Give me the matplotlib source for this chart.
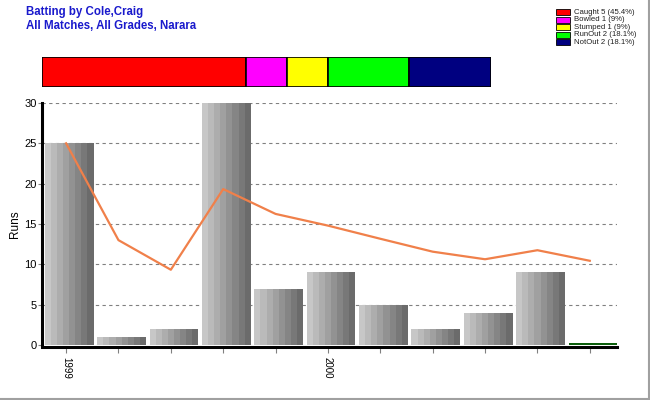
import matplotlib
matplotlib.use("Agg")
import matplotlib.pyplot as plt
import matplotlib.colors as colors
from matplotlib.patches import Rectangle
from matplotlib.lines import Line2D
import numpy as np

# Innings data
runs = [25, 1, 2, 30, 7, 9, 5, 2, 4, 9, 0]
average = [25, 13, 9.33, 19.33, 16.25, 14.8, 13.17, 11.57, 10.63, 11.75, 10.44]
tick_labels = ["1999", "", "", "", "", "2000", "", "", "", "", ""]

# Dismissal breakdown
dismissals = ["Caught", "Bowled", "Stumped", "RunOut", "NotOut"]
dismissal_counts = [5, 1, 1, 2, 2]
dismissal_pct = ["45.4%", "9%", "9%", "18.1%", "18.1%"]
dismissal_colors = ["#ff0000", "#ff00ff", "#ffff00", "#00ff00", "#000080"]

plt.rcParams["font.family"] = ["Liberation Sans", "DejaVu Sans"]

fig = plt.figure(figsize=(6.5, 4), dpi=100)

# Main chart
ax = fig.add_axes([42 / 650, 1 - 345 / 400, 575 / 650, 242 / 400])
x = np.arange(len(runs))
bar_w = 0.93
n_strips = 8
strip_cols = [colors.to_hex(c) for c in np.linspace([0.78] * 3, [0.42] * 3, n_strips)]
for xi, r in zip(x, runs):
    left = xi + 0.06 - bar_w / 2
    if r == 0:
        # zero score shown as a thin green bar
        ax.bar(left, 0.25, width=bar_w, align="edge", color="#0b5e0b", zorder=3)
        continue
    sw = bar_w / n_strips
    for k in range(n_strips):
        ax.bar(left + k * sw, r, width=sw, align="edge", color=strip_cols[k],
               linewidth=0, zorder=3)

ax.plot(x, average, color="#f0804a", linewidth=1.6, zorder=4)

for s in ["top", "right"]:
    ax.spines[s].set_visible(False)
ax.spines["left"].set_linewidth(2.2)
ax.spines["bottom"].set_linewidth(2.2)
ax.spines["bottom"].set_position(("outward", 1.5))

ax.set_xlim(-0.46, 10.52)
ax.set_ylim(0, 30)
ax.set_yticks(range(0, 31, 5))
ax.set_xticks(x)
ax.set_xticklabels(tick_labels)
ax.tick_params(axis="y", labelsize=8, length=3, color="#808080", pad=1)
ax.tick_params(axis="x", length=4, color="#808080", pad=3, labelsize=7, labelrotation=270)
ax.yaxis.grid(True, linestyle=(0, (3, 3)), color="#808080", linewidth=0.8)
ax.set_axisbelow(True)
ax.set_ylabel("Runs", fontsize=8.5, labelpad=2)

# Dismissal proportion bar
ax2 = fig.add_axes([42 / 650, 1 - 87 / 400, 449 / 650, 30 / 400])
start = 0
for cnt, col in zip(dismissal_counts, dismissal_colors):
    ax2.barh(0, cnt, left=start, height=1, color=col, edgecolor="black", linewidth=1.2)
    start += cnt
ax2.set_xlim(0, sum(dismissal_counts))
ax2.set_ylim(-0.5, 0.5)
ax2.axis("off")

# Legend
for i, (name, cnt, pct, col) in enumerate(zip(dismissals, dismissal_counts, dismissal_pct, dismissal_colors)):
    yc = 1 - (12 + i * 7.6) / 400
    fig.patches.append(Rectangle((556 / 650, yc - 3 / 400), 14 / 650, 6 / 400,
                                 transform=fig.transFigure, facecolor=col,
                                 edgecolor="black", linewidth=0.6))
    fig.text(574 / 650, yc, f"{name} {cnt} ({pct})", fontsize=5.6, va="center",
             ha="left", color="#202020")

# Title
fig.text(26 / 650, 1 - 12 / 400, "Batting by Cole,Craig", fontsize=8.3, fontweight="bold",
         color="#1a1acc", va="center")
fig.text(26 / 650, 1 - 26 / 400, "All Matches, All Grades, Narara", fontsize=8.3,
         fontweight="bold", color="#1a1acc", va="center")

# Frame shadow on bottom and right
fig.lines.append(Line2D([0, 648.5 / 650], [1.5 / 400, 1.5 / 400], transform=fig.transFigure,
                        color="#a0a0a0", linewidth=1.5))
fig.lines.append(Line2D([648.5 / 650, 648.5 / 650], [1.5 / 400, 1], transform=fig.transFigure,
                        color="#a0a0a0", linewidth=1.5))

fig.savefig("out.png", dpi=100)
